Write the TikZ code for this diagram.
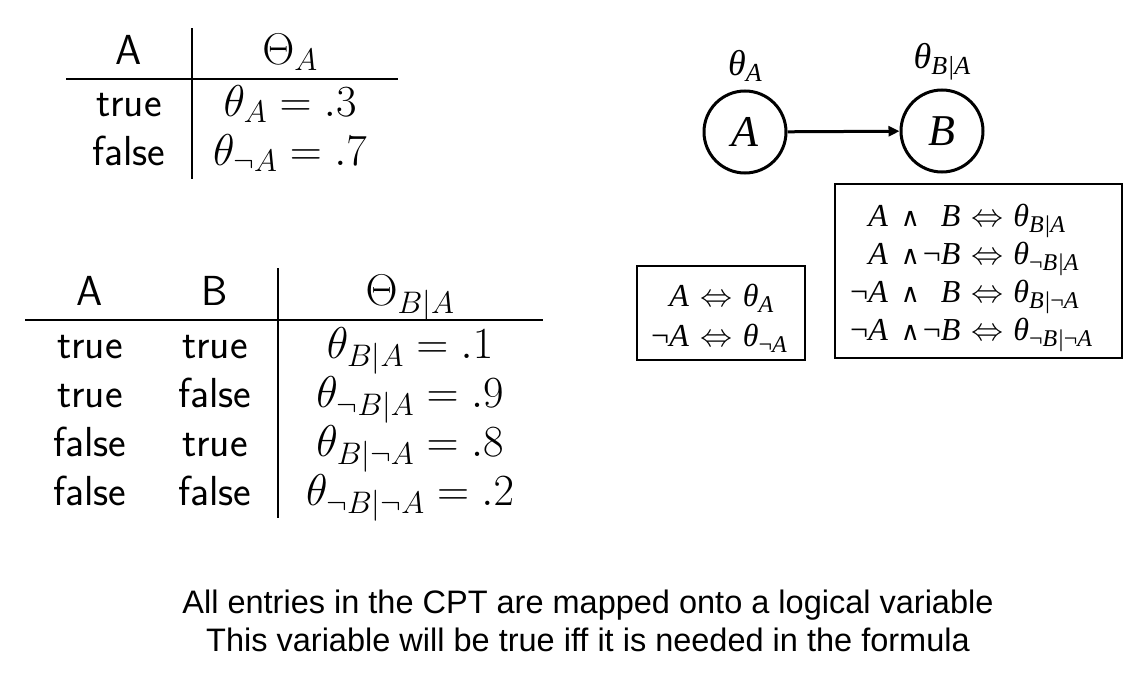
\RequirePackage{fix-cm}
\documentclass[tikz,border=0pt]{standalone}
\usepackage[no-math]{fontspec}
\usepackage{amsmath}
\newfontfamily\timesfont{Liberation Serif}
\newfontfamily\helvfont{Liberation Sans}
\newfontfamily\logicfont{DejaVu Sans}
\usetikzlibrary{arrows.meta, positioning}

\newcommand{\tand}{{\logicfont\upshape\fontsize{26}{28}\selectfont ∧}}
\newcommand{\tiff}{$\Leftrightarrow$}
\newcommand{\tneg}{{\upshape ¬}}
\newcommand{\tsb}[2][24]{\raisebox{-6pt}{\fontsize{#1}{#1}\selectfont #2}}

\begin{document}
\begin{tikzpicture}[
    x=1pt, y=-1pt,
    cell/.style={anchor=base, inner sep=0pt, font=\fontsize{42}{50}\selectfont\sffamily},
    mcell/.style={anchor=base, inner sep=0pt, font=\fontsize{44.5}{52}\selectfont},
    rule/.style={line width=1.8pt},
    var/.style={circle, draw, line width=3pt, minimum size=82pt, inner sep=0pt, font=\fontsize{44}{52}\selectfont\timesfont\itshape},
    param/.style={inner sep=0pt, font=\fontsize{36}{40}\selectfont\timesfont\itshape},
    edge/.style={-{Triangle[length=11pt, width=10pt]}, line width=3pt},
    box/.style={rectangle, draw, line width=2pt, inner sep=0pt},
    eq/.style={inner sep=0pt, anchor=west, font=\fontsize{32}{38}\selectfont\timesfont\itshape},
    note/.style={inner sep=0pt, align=center, font=\fontsize{32.5}{38}\selectfont\helvfont}
]
\useasboundingbox (0,0) rectangle (1136,680);

% ============ TABLE FOR A ============
\node[cell] (ta) at (129,64) {A};
\node[mcell] (tath) at (290,64) {$\Theta_A$};
\node[cell] (ta1) at (129,116) {true};
\node[mcell] (ta1p) at (290,116) {$\theta_A = .3$};
\node[cell] (ta2) at (129,165) {false};
\node[mcell] (ta2p) at (290,165) {$\theta_{\neg A} = .7$};
\draw[rule] (66,79) -- (398,79);
\draw[rule] (192,28) -- (192,179);

% ============ TABLE FOR B GIVEN A ============
\node[cell] (tba) at (90,305) {A};
\node[cell] (tbb) at (215,305) {B};
\node[mcell] (tbth) at (410,305) {$\Theta_{B|A}$};
\node[cell] (tb1a) at (90,358) {true};
\node[cell] (tb1b) at (215,358) {true};
\node[mcell] (tb1p) at (410,358) {$\theta_{B|A} = .1$};
\node[cell] (tb2a) at (90,407) {true};
\node[cell] (tb2b) at (215,407) {false};
\node[mcell] (tb2p) at (410,407) {$\theta_{\neg B|A} = .9$};
\node[cell] (tb3a) at (90,456) {false};
\node[cell] (tb3b) at (215,456) {true};
\node[mcell] (tb3p) at (410,456) {$\theta_{B|\neg A} = .8$};
\node[cell] (tb4a) at (90,505) {false};
\node[cell] (tb4b) at (215,505) {false};
\node[mcell] (tb4p) at (410,505) {$\theta_{\neg B|\neg A} = .2$};
\draw[rule] (25,320) -- (543,320);
\draw[rule] (278,268) -- (278,518);

% ============ NETWORK ============
\node[var] (A) at (745,132) {A};
\node[var] (B) at (942,131) {B};
\node[param, above=8pt of A] (thA) {θ\tsb[26]{A}};
\node[param, above=8pt of B] (thB) {θ\tsb[26]{B|A}};
\draw[edge] (A) -- (B);

% ============ INDICATOR BOXES ============
\node[box, minimum width=168pt, minimum height=94pt] (boxa) at (721,313) {};
\node[eq, font=\fontsize{32}{40}\selectfont\timesfont\itshape] (eqa) at (651,318) {%
    \begin{tabular}{@{}r@{\hspace{12pt}}c@{\hspace{10pt}}l@{}}
    A & \tiff & θ\tsb{A}\\
    \tneg A & \tiff & θ\tsb{\tneg A}
    \end{tabular}};

\node[box, minimum width=287pt, minimum height=174pt] (boxb) at (978.5,271) {};
\node[eq] (eqb) at (850,275.5) {%
    \begin{tabular}{@{}r@{\hspace{13pt}}c@{\hspace{3pt}}r@{\hspace{11pt}}c@{\hspace{10pt}}l@{}}
    A & \tand & B & \tiff & θ\tsb{B|A}\\
    A & \tand & \tneg B & \tiff & θ\tsb{\tneg B|A}\\
    \tneg A & \tand & B & \tiff & θ\tsb{B|\tneg A}\\
    \tneg A & \tand & \tneg B & \tiff & θ\tsb{\tneg B|\tneg A}
    \end{tabular}};

% ============ NOTE ============
\node[note] (note) at (588,621) {All entries in the CPT are mapped onto a logical variable\\This variable will be true iff it is needed in the formula};

\end{tikzpicture}
\end{document}
